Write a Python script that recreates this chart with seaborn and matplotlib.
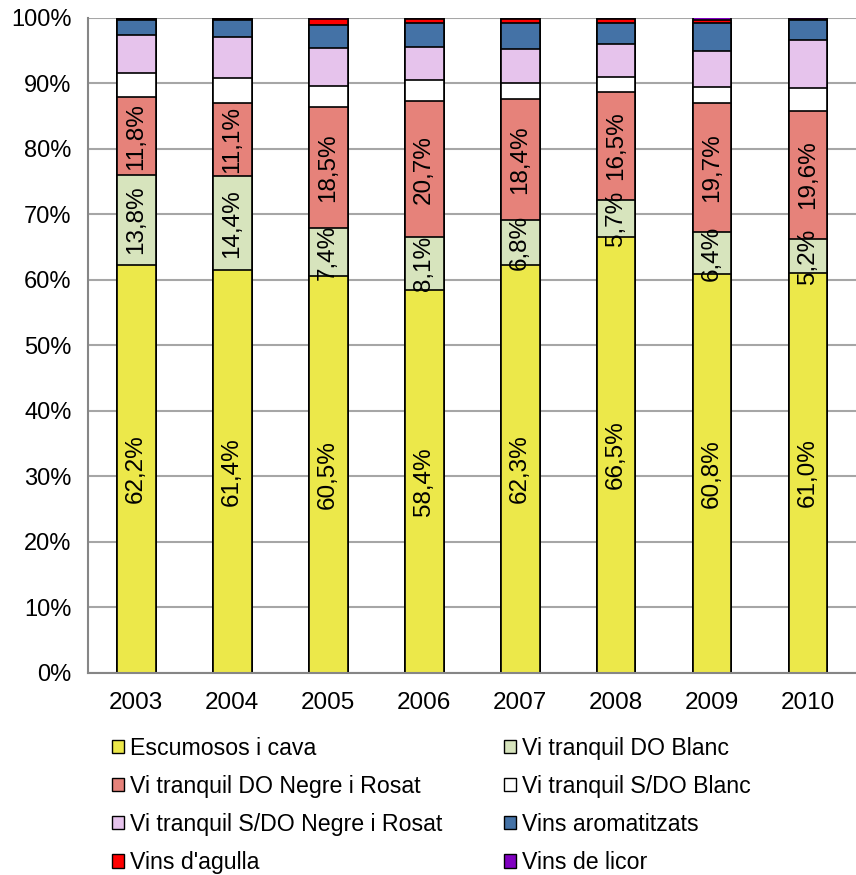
import pandas as pd
import numpy as np
import matplotlib
matplotlib.use('Agg')
import matplotlib.pyplot as plt
from matplotlib.patches import Patch
import seaborn as sns

years = ['2003', '2004', '2005', '2006', '2007', '2008', '2009', '2010']

series = ['Escumosos i cava', 'Vi tranquil DO Blanc', 'Vi tranquil DO Negre i Rosat',
          'Vi tranquil S/DO Blanc', 'Vi tranquil S/DO Negre i Rosat', 'Vins aromatitzats',
          "Vins d'agulla", 'Vins de licor']

escumosos = [62.2, 61.4, 60.5, 58.4, 62.3, 66.5, 60.8, 61.0]
do_blanc = [13.8, 14.4, 7.4, 8.1, 6.8, 5.7, 6.4, 5.2]
do_negre = [11.8, 11.1, 18.5, 20.7, 18.4, 16.5, 19.7, 19.6]
sdo_blanc = [3.8, 3.8, 3.1, 3.2, 2.5, 2.2, 2.5, 3.5]
sdo_negre = [5.7, 6.3, 5.9, 5.1, 5.2, 5.0, 5.5, 7.3]
aromatitzats = [2.3, 2.6, 3.5, 3.7, 4.0, 3.3, 4.2, 3.0]
agulla = [0.2, 0.2, 0.9, 0.5, 0.5, 0.5, 0.5, 0.2]
licor = [0.2, 0.2, 0.2, 0.3, 0.3, 0.3, 0.4, 0.2]

colors = ['#ECE84A', '#D7E4BD', '#E6827A', '#FFFFFF', '#E6C3EC', '#4472A6', '#FF0000', '#8000C0']

sns.set_theme(style='white')
plt.rcParams['font.family'] = ['Liberation Sans', 'DejaVu Sans']
plt.rcParams['text.color'] = 'black'
plt.rcParams['xtick.color'] = 'black'
plt.rcParams['ytick.color'] = 'black'

df = pd.DataFrame(dict(zip(series, [escumosos, do_blanc, do_negre, sdo_blanc,
                                    sdo_negre, aromatitzats, agulla, licor])), index=years)
cum = df.cumsum(axis=1)

fig = plt.figure(figsize=(8.56, 8.75), dpi=100)
ax = fig.add_axes([0.103, 0.231, 0.897, 0.749])

# draw tallest cumulative first so each lower segment overlays it
for i in range(len(series) - 1, -1, -1):
    s = series[i]
    sns.barplot(x=years, y=cum[s].values, color=colors[i], saturation=1,
                width=0.405, edgecolor='black', linewidth=1.2, ax=ax)

# value labels for the three first series
for i in range(3):
    s = series[i]
    for j, y in enumerate(years):
        v = df.loc[y, s]
        mid = cum.loc[y, s] - v / 2
        ax.text(j, mid, f"{v:.1f}".replace('.', ',') + '%', rotation=90,
                ha='center', va='center', fontsize=17.5, color='black')

ax.set_xlabel('')
ax.set_ylabel('')
ax.set_ylim(0, 100)
ax.set_xlim(-0.5, 7.5)
ax.set_yticks(np.arange(0, 101, 10))
ax.set_yticklabels([f"{t}%" for t in range(0, 101, 10)], fontsize=17)
ax.set_xticks(range(len(years)))
ax.set_xticklabels(years, fontsize=17.5)
ax.set_xticks(np.arange(0.5, 7.5, 1), minor=True)
ax.tick_params(axis='x', which='major', length=0, pad=14)
ax.tick_params(axis='x', which='minor', length=6, color='#868686', width=1.2, direction='out')
ax.tick_params(axis='y', length=6, color='#868686', width=1.2, direction='out', pad=6)
ax.yaxis.grid(True, color='#A6A6A6', linewidth=1.5)
ax.set_axisbelow(True)
for side in ['top', 'right']:
    ax.spines[side].set_visible(False)
for side in ['left', 'bottom']:
    ax.spines[side].set_color('#868686')
    ax.spines[side].set_linewidth(1.5)

handles = [Patch(facecolor=c, edgecolor='black', linewidth=1) for c in colors]
order = [0, 2, 4, 6, 1, 3, 5, 7]
fig.legend([handles[k] for k in order], [series[k] for k in order], ncol=2,
           loc='upper left', bbox_to_anchor=(0.131, 0.158), frameon=False,
           fontsize=16.7, handlelength=0.52, handleheight=0.52, handletextpad=0.25,
           columnspacing=2.67, labelspacing=0.65, borderpad=0, borderaxespad=0)

plt.savefig('out.png', dpi=100)
